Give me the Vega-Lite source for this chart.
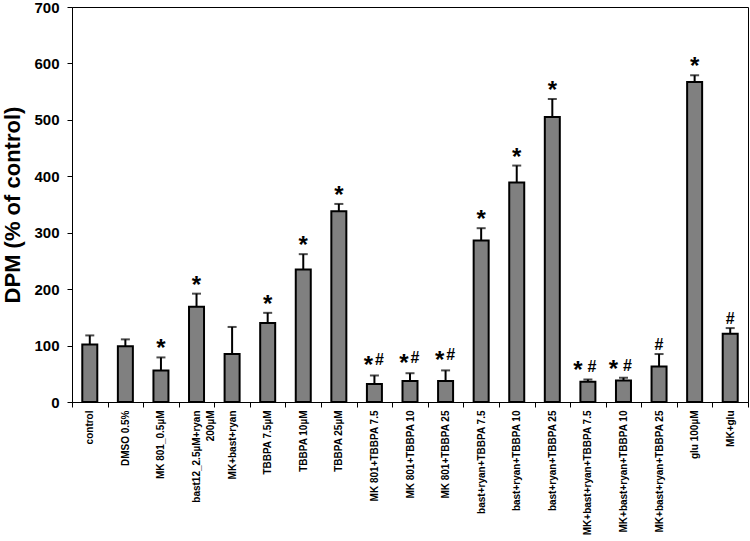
{
  "$schema": "https://vega.github.io/schema/vega-lite/v6.json",
  "autosize": {"type": "none"},
  "padding": {"left": 72, "top": 7, "right": 2, "bottom": 139},
  "width": 676,
  "height": 395,
  "background": "white",
  "config": {
    "font": "Liberation Sans",
    "view": {"stroke": "#000", "strokeWidth": 1}
  },
  "data": {
    "values": [
      {"group": "control", "value": 102, "upper": 118, "mark": ""},
      {"group": "DMSO 0.5%", "value": 99, "upper": 111, "mark": ""},
      {"group": "MK 801_0.5µM", "value": 56, "upper": 79, "mark": "*"},
      {"group": "bast12_2.5µM+ryan|200µM", "value": 169, "upper": 192, "mark": "*"},
      {"group": "MK+bast+ryan", "value": 85, "upper": 133, "mark": ""},
      {"group": "TBBPA 7.5µM", "value": 140, "upper": 158, "mark": "*"},
      {"group": "TBBPA 10µM", "value": 235, "upper": 262, "mark": "*"},
      {"group": "TBBPA 25µM", "value": 338, "upper": 351, "mark": "*"},
      {"group": "MK 801+TBBPA 7.5", "value": 32, "upper": 47, "mark": "*#"},
      {"group": "MK 801+TBBPA 10", "value": 37, "upper": 51, "mark": "*#"},
      {"group": "MK 801+TBBPA 25", "value": 37, "upper": 56, "mark": "*#"},
      {"group": "bast+ryan+TBBPA 7.5", "value": 286, "upper": 308, "mark": "*"},
      {"group": "bast+ryan+TBBPA 10", "value": 389, "upper": 419, "mark": "*"},
      {"group": "bast+ryan+TBBPA 25", "value": 505, "upper": 537, "mark": "*"},
      {"group": "MK+bast+ryan+TBBPA 7.5", "value": 36, "upper": 40, "mark": "* #"},
      {"group": "MK+bast+ryan+TBBPA 10", "value": 38, "upper": 43, "mark": "* #"},
      {"group": "MK+bast+ryan+TBBPA 25", "value": 63, "upper": 85, "mark": "#"},
      {"group": "glu 100µM", "value": 567, "upper": 579, "mark": "*"},
      {"group": "MK+glu", "value": 121, "upper": 131, "mark": "#"}
    ]
  },
  "encoding": {
    "x": {
      "field": "group",
      "type": "nominal",
      "sort": null,
      "scale": {"paddingInner": 0, "paddingOuter": 0},
      "axis": {
        "title": null,
        "labelAngle": -90,
        "labelFont": "Liberation Sans",
        "labelFontWeight": "bold",
        "labelFontSize": 10,
        "labelColor": "#000",
        "labelPadding": 3,
        "labelExpr": "split(datum.label, '|')",
        "labelLineHeight": 14,
        "tickBand": "extent",
        "tickColor": "#000",
        "tickSize": 5,
        "domainColor": "#000",
        "labelLimit": 200
      }
    }
  },
  "layer": [
    {
      "mark": {"type": "bar", "size": 15, "fill": "#808080", "stroke": "#000", "strokeWidth": 2},
      "encoding": {
        "y": {
          "field": "value",
          "type": "quantitative",
          "scale": {"domain": [0, 700], "nice": false},
          "axis": {
            "title": "DPM (% of control)",
            "titleFont": "Liberation Sans",
            "titleFontSize": 22,
            "titleFontWeight": "bold",
            "titleColor": "#000",
            "titlePadding": 9,
            "values": [0, 100, 200, 300, 400, 500, 600, 700],
            "grid": false,
            "labelFont": "Liberation Sans",
            "labelFontSize": 15,
            "labelFontWeight": "bold",
            "labelColor": "#000",
            "labelPadding": 8,
            "tickColor": "#000",
            "tickSize": 5,
            "domainColor": "#000"
          }
        }
      }
    },
    {
      "mark": {"type": "rule", "stroke": "#000", "strokeWidth": 2},
      "encoding": {
        "y": {"field": "value", "type": "quantitative"},
        "y2": {"field": "upper"}
      }
    },
    {
      "mark": {"type": "tick", "color": "#000", "size": 9, "thickness": 2, "orient": "horizontal"},
      "encoding": {
        "y": {"field": "upper", "type": "quantitative"}
      }
    },
    {
      "transform": [{"filter": "datum.mark == '*'"}],
      "mark": {"type": "text", "text": "*", "baseline": "bottom", "align": "center", "dy": 4, "fontSize": 24, "fontWeight": "bold", "font": "Liberation Sans", "color": "#000"},
      "encoding": {"y": {"field": "upper", "type": "quantitative"}}
    },
    {
      "transform": [{"filter": "datum.mark == '*#'"}],
      "mark": {"type": "text", "text": "*", "baseline": "bottom", "align": "center", "dx": -6, "dy": 3, "fontSize": 24, "fontWeight": "bold", "font": "Liberation Sans", "color": "#000"},
      "encoding": {"y": {"field": "upper", "type": "quantitative"}}
    },
    {
      "transform": [{"filter": "datum.mark == '* #'"}],
      "mark": {"type": "text", "text": "*", "baseline": "bottom", "align": "center", "dx": -10, "dy": 4, "fontSize": 24, "fontWeight": "bold", "font": "Liberation Sans", "color": "#000"},
      "encoding": {"y": {"field": "upper", "type": "quantitative"}}
    },
    {
      "transform": [{"filter": "datum.mark == '*#'"}],
      "mark": {"type": "text", "text": "#", "baseline": "alphabetic", "align": "center", "dx": 5, "dy": -10, "fontSize": 16, "fontWeight": "bold", "font": "Liberation Sans", "color": "#000"},
      "encoding": {"y": {"field": "upper", "type": "quantitative"}}
    },
    {
      "transform": [{"filter": "datum.mark == '* #'"}],
      "mark": {"type": "text", "text": "#", "baseline": "alphabetic", "align": "center", "dx": 4, "dy": -7, "fontSize": 16, "fontWeight": "bold", "font": "Liberation Sans", "color": "#000"},
      "encoding": {"y": {"field": "upper", "type": "quantitative"}}
    },
    {
      "transform": [{"filter": "datum.mark == '#'"}],
      "mark": {"type": "text", "text": "#", "baseline": "alphabetic", "align": "center", "dy": -4, "fontSize": 16, "fontWeight": "bold", "font": "Liberation Sans", "color": "#000"},
      "encoding": {"y": {"field": "upper", "type": "quantitative"}}
    }
  ]
}
